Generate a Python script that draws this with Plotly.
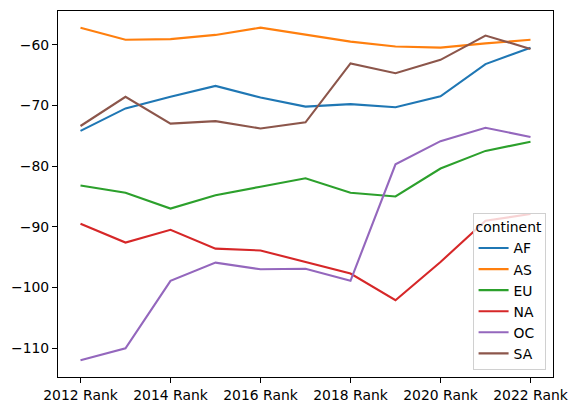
import plotly.graph_objects as go

# Rank columns (one per year) and a value series per continent
years = ["2012 Rank", "2013 Rank", "2014 Rank", "2015 Rank", "2016 Rank", "2017 Rank",
         "2018 Rank", "2019 Rank", "2020 Rank", "2021 Rank", "2022 Rank"]
tick_labels = years[::2]

af = [-74.2, -70.5, -68.6, -66.8, -68.7, -70.2, -69.8, -70.3, -68.5, -63.2, -60.5]
as_ = [-57.2, -59.2, -59.1, -58.4, -57.2, -58.4, -59.5, -60.3, -60.5, -59.8, -59.2]
eu = [-83.2, -84.4, -87.0, -84.8, -83.4, -82.0, -84.4, -85.0, -80.4, -77.5, -76.0]
na = [-89.5, -92.6, -90.5, -93.6, -93.9, -95.8, -97.7, -102.1, -95.8, -89.0, -87.9]
oc = [-112.0, -110.0, -98.9, -95.9, -97.0, -96.9, -98.9, -79.7, -75.9, -73.7, -75.2]
sa = [-73.4, -68.6, -73.0, -72.6, -73.8, -72.8, -63.1, -64.7, -62.5, -58.5, -60.7]

continents = ["AF", "AS", "EU", "NA", "OC", "SA"]
series = [af, as_, eu, na, oc, sa]
colors = ["#1f77b4", "#ff7f0e", "#2ca02c", "#d62728", "#9467bd", "#8c564b"]

fig = go.Figure()
for name, vals, col in zip(continents, series, colors):
    fig.add_trace(go.Scatter(x=years, y=vals, mode="lines", name=name,
                             line=dict(color=col, width=2.1)))

axis_style = dict(showline=True, linecolor="black", linewidth=1.1, mirror=True,
                  ticks="outside", ticklen=5, tickwidth=1.1, tickcolor="black",
                  showgrid=False, zeroline=False)

fig.update_layout(
    width=578, height=413,
    margin=dict(l=58, r=24, t=10, b=34),
    plot_bgcolor="white", paper_bgcolor="white",
    font=dict(family="DejaVu Sans", size=13.9, color="black"),
    xaxis=dict(type="category", categoryorder="array", categoryarray=years,
               tickmode="array", tickvals=tick_labels, ticktext=tick_labels,
               range=[-0.5, 10.5], **axis_style),
    yaxis=dict(range=[-114.74, -54.46], dtick=10, tick0=0, **axis_style),
    legend=dict(title=dict(text="continent", font=dict(size=13.9)),
                x=0.985, y=0.018, xanchor="right", yanchor="bottom",
                itemwidth=30, tracegroupgap=0,
                bgcolor="rgba(255,255,255,0.8)", bordercolor="#d0d0d0", borderwidth=1,
                font=dict(size=13.9)),
    showlegend=True,
)

# the page body has a default 8px margin; drop it so the figure sits at 0,0
fig.write_html("out.html", config={"displayModeBar": False},
               post_script="document.body.style.margin='0';")
